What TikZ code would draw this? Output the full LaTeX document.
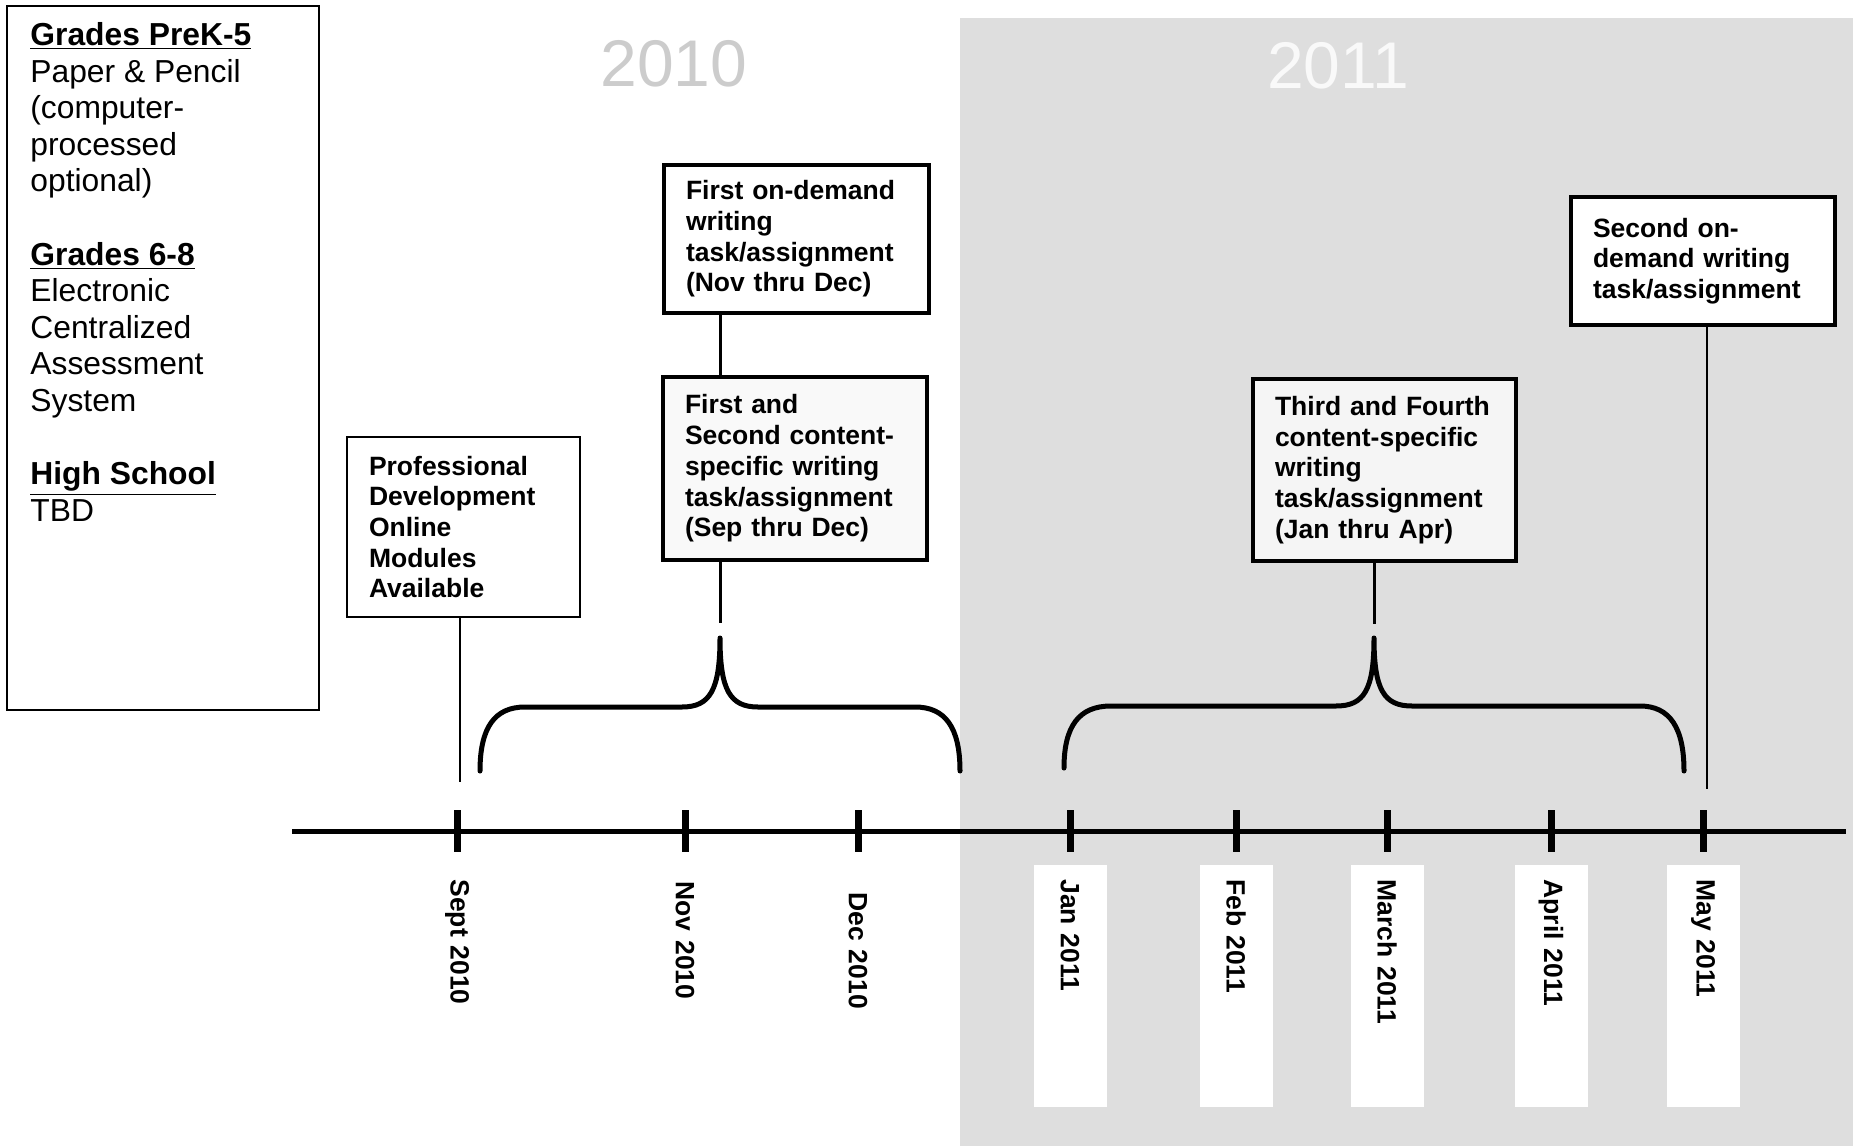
\documentclass[tikz,border=0pt]{standalone}
\usepackage{fontspec}
\setmainfont{Liberation Sans}
\newcommand\taskfont{\fontsize{13.25pt}{15.35pt}\selectfont\bfseries}
\newcommand\legendfont{\fontsize{15.9pt}{18.3pt}\selectfont}
\newcommand\yearfont{\fontsize{33pt}{38pt}\selectfont}

\begin{document}
\begin{tikzpicture}[x=0.5pt, y=-0.5pt,
    taskbox/.style={draw, line width=2.2pt, align=left, inner xsep=11pt, inner ysep=0pt, font=\taskfont},
    link/.style={line width=1.5pt},
    curly/.style={line width=2.5pt, line cap=round, line join=round},
    monthtick/.style={line width=3.5pt},
    monthlabel/.style={rotate=-90, anchor=west, fill=white, font=\taskfont, text width=107pt,
        align=left, inner xsep=7pt, inner ysep=0pt, minimum height=36.5pt}]
    \useasboundingbox (0,0) rectangle (1853,1146);
    \fill[gray!26] (960,18) rectangle (1853,1146);  % 2011
    \node[font=\yearfont, text=gray!40] (y2010) at (674,64) {2010};
    \node[font=\yearfont, text=gray!5] (y2011) at (1338,66) {2011};

    \node[draw, line width=0.8pt, minimum width=156pt, minimum height=352pt,
        anchor=north west, inner sep=0pt] (legend) at (6,5) {};
    \node[anchor=north west, align=left, inner sep=0pt, font=\legendfont] (legendtext) at (30,22)
        {\underline{\textbf{Grades PreK-5}}\\ Paper \& Pencil\\ (computer-\\ processed\\ optional)\\[18.3pt]
         \underline{\textbf{Grades 6-8}}\\ Electronic\\ Centralized\\ Assessment\\ System\\[18.3pt]
         \underline{\textbf{High School}}\\ TBD};

    \node[taskbox, line width=0.7pt, fill=white, text width=94.5pt, minimum height=90pt] (pd) at (463.5,527)
        {Professional\\ Development\\ Online\\ Modules\\ Available};
    \node[taskbox, fill=white, text width=110.5pt, minimum height=74pt] (ond1) at (796.5,239)
        {First on-demand\\ writing\\ task/assignment\\ (Nov thru Dec)};
    \node[taskbox, fill=gray!5, text width=110pt, minimum height=91.5pt] (cs12) at (795,468.5)
        {First and\\ Second content-\\ specific writing\\ task/assignment\\ (Sep thru Dec)};
    \node[taskbox, fill=gray!8, text width=109.5pt, minimum height=91pt] (cs34) at (1384.5,470)
        {Third and Fourth\\ content-specific\\ writing\\ task/assignment\\ (Jan thru Apr)};
    \node[taskbox, fill=white, text width=110pt, minimum height=64pt] (ond2) at (1703,261)
        {Second on-\\ demand writing\\ task/assignment};

    \coordinate (pdend) at (460,782);
    \coordinate (tipA) at (720,638);
    \coordinate (stemA) at (720,623);
    \coordinate (tipB) at (1374,638);
    \coordinate (stemB) at (1374,624);
    \coordinate (ond2end) at (1707,789);

    \draw[link, line width=1.2pt] (pd.south -| pdend) -- (pdend);
    \draw[link] (ond1.south -| tipA) -- (cs12.north -| tipA);
    \draw[link] (cs12.south -| stemA) -- (stemA);
    \draw[link] (cs34.south -| stemB) -- (stemB);
    \draw[link, line width=1.2pt] (ond2.south -| ond2end) -- (ond2end);

    \draw[curly] (480,771) .. controls (480,727) and (495,707) .. (525,707) -- (682,707)
        .. controls (710,707) and (720,690) .. (tipA)
        .. controls (720,690) and (730,707) .. (758,707) -- (915,707)
        .. controls (945,707) and (960,727) .. (960,771);
    \draw[curly] (1064,768) .. controls (1064,726) and (1079,706) .. (1111,706) -- (1336,706)
        .. controls (1364,706) and (1374,690) .. (tipB)
        .. controls (1374,690) and (1384,706) .. (1412,706) -- (1640,706)
        .. controls (1670,706) and (1684,728) .. (1684,771);

    \coordinate (t0) at (292,831);
    \coordinate (t1) at (1846,831);
    \draw[line width=2.5pt] (t0) -- (t1);  % timeline
    \foreach \x/\y/\m/\lbl in {457/865/sep/Sept 2010, 685/867/nov/Nov 2010, 858/878/dec/Dec 2010,
        1070/865/jan/Jan 2011, 1236/865/feb/Feb 2011, 1387/865/mar/March 2011,
        1551/865/apr/April 2011, 1703/865/may/May 2011}
    {
        \draw[monthtick] (\x,810) -- (\x,852);
        \node[monthlabel] (lbl-\m) at (\x,\y) {\lbl};
    }
\end{tikzpicture}
\end{document}
